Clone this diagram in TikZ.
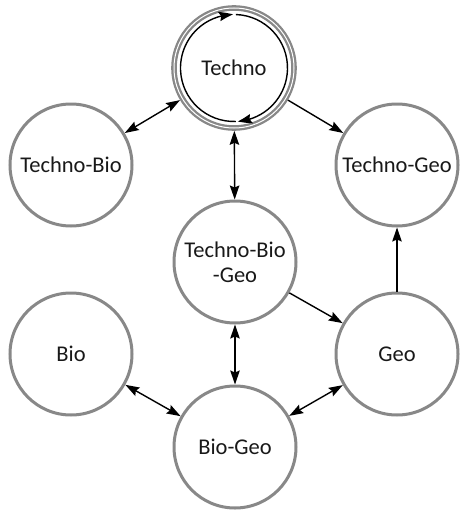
\documentclass[tikz,border=0pt]{standalone}
\usepackage{fontspec}
\setmainfont{Carlito}
\usetikzlibrary{arrows.meta,bending}
\definecolor{ringgray}{RGB}{136,136,136}
\definecolor{txt}{RGB}{25,25,25}
\begin{document}
\begin{tikzpicture}[x=1pt,y=-1pt,
  circ/.style={circle, draw=ringgray, line width=3pt, minimum size=122pt,
    inner sep=0pt, font=\fontsize{22.5}{25}\selectfont, text=txt, align=center},
  conn/.style={line width=1.4pt, black},
  >={Stealth[length=14pt,width=9.5pt,inset=2pt]},
  bendtip/.style={-{Stealth[length=14pt,width=9.5pt,inset=2pt,bend]}}
]
\useasboundingbox (0,0) rectangle (460,511);

\node[circ] (tb) at (71,165) {Techno-Bio};
\node[circ] (tg) at (397,165) {Techno-Geo};
\node[circ] (tbg) at (235,262) {Techno-Bio\\-Geo};
\node[circ] (bio) at (71,354) {Bio};
\node[circ] (geo) at (397,354) {Geo};
\node[circ] (bg) at (235,447) {Bio-Geo};
\node[circ, double=white, line width=2.3pt, double distance=1pt,
      minimum size=120pt, outer sep=2.8pt] (t) at (234,68) {Techno};

\begin{scope}[shift={(t.center)}, y=1pt]
  \draw[conn, bendtip] (272:53.5) arc[start angle=272, end angle=91, radius=53.5];
  \draw[conn, bendtip] (88:53.5) arc[start angle=88, end angle=-86, radius=53.5];
\end{scope}

\draw[conn, <->] (tb) -- (t);
\draw[conn, ->] (t) -- (tg);
\draw[conn, <->] (t) -- (tbg);
\draw[conn, ->] (tbg) -- (geo);
\draw[conn, ->] (geo) -- (tg);
\draw[conn, <->] (tbg) -- (bg);
\draw[conn, <->] (bio) -- (bg);
\draw[conn, <->] (geo) -- (bg);
\end{tikzpicture}
\end{document}
